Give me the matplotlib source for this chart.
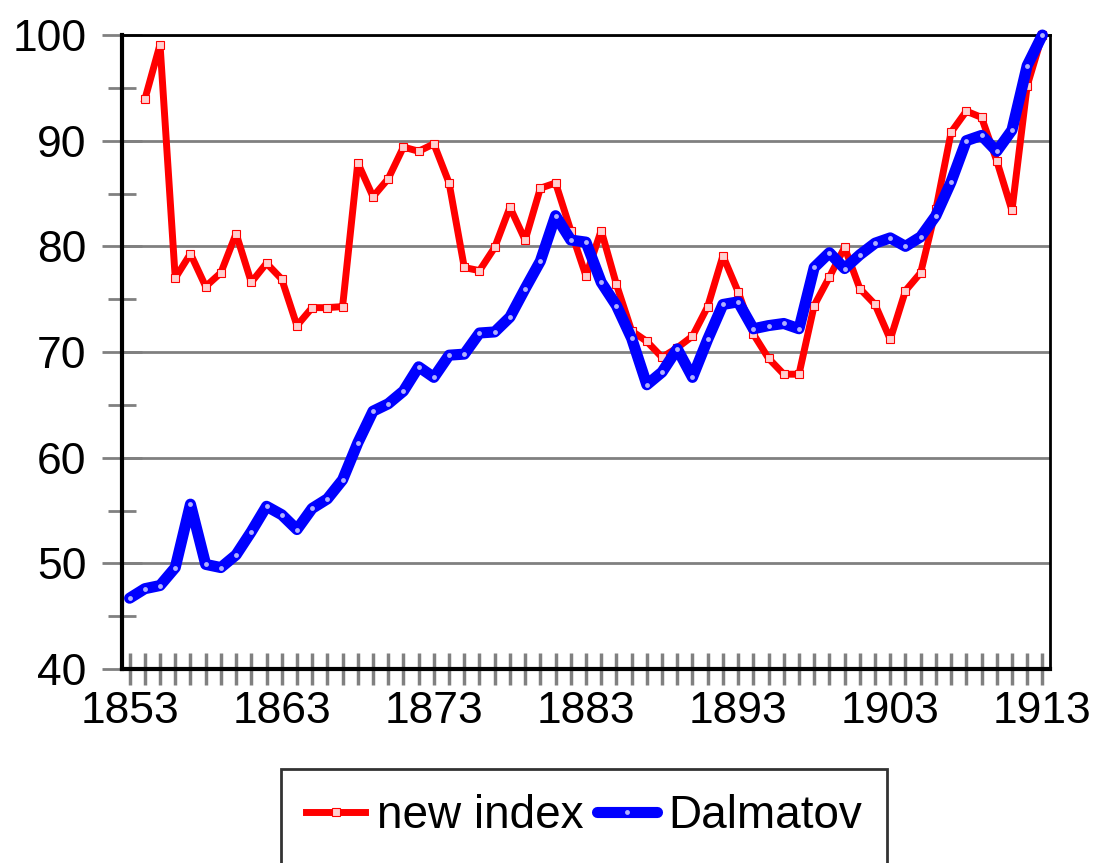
import matplotlib
matplotlib.use("Agg")
import matplotlib.pyplot as plt
import numpy as np

years = np.arange(1853, 1914)

new_index = [np.nan, 93.9, 99.1, 77.0, 79.3, 76.2, 77.5, 81.2, 76.6, 78.4,
             76.9, 72.5, 74.2, 74.2, 74.3, 87.9, 84.7, 86.4, 89.4, 89.0,
             89.7, 86.0, 78.0, 77.7, 79.9, 83.7, 80.6, 85.5, 86.0, 81.5,
             77.2, 81.5, 76.4, 72.0, 71.0, 69.5, 70.4, 71.5, 74.3, 79.1,
             75.7, 71.7, 69.4, 67.9, 67.9, 74.4, 77.1, 79.9, 76.0, 74.5,
             71.2, 75.8, 77.5, 83.5, 90.8, 92.8, 92.2, 88.1, 83.4, 95.2,
             100.0]

dalmatov = [46.7, 47.6, 47.9, 49.6, 55.6, 49.9, 49.6, 50.8, 53.0, 55.4,
            54.6, 53.2, 55.2, 56.1, 57.9, 61.4, 64.4, 65.1, 66.3, 68.6,
            67.6, 69.7, 69.8, 71.8, 71.9, 73.3, 76.0, 78.6, 82.9, 80.6,
            80.4, 76.6, 74.4, 71.3, 66.9, 68.1, 70.3, 67.6, 71.2, 74.5,
            74.75, 72.2, 72.5, 72.7, 72.2, 78.0, 79.4, 77.9, 79.2, 80.3,
            80.8, 80.0, 80.9, 82.9, 86.1, 90.0, 90.5, 89.0, 91.0, 97.1,
            100.0]

label_years = [1853, 1863, 1873, 1883, 1893, 1903, 1913]

plt.rcParams['font.family'] = ['Liberation Sans', 'DejaVu Sans']

fig = plt.figure(figsize=(11.02, 8.63), dpi=100)
ax = fig.add_axes([0.1107, 0.2248, 0.8421, 0.7346])

ax.plot(years, new_index, color='#ff0000', lw=5, marker='s', ms=5.5,
        mfc='#ffd0d0', mec='#ff0000', mew=0.8, label='new index',
        clip_on=False, zorder=3)
ax.plot(years, dalmatov, color='#0000ff', lw=8, marker='o', ms=3.5,
        mfc='#b0b0ff', mec='none', label='Dalmatov',
        clip_on=False, zorder=4, solid_capstyle='round', solid_joinstyle='round')

ax.set_xlim(1852.5, 1913.5)
ax.set_ylim(40, 100)

ax.set_yticks(np.arange(40, 101, 10))
ax.set_yticks(np.arange(45, 100, 10), minor=True)
ax.set_xticks(years)
ax.set_xticklabels([str(y) if y in label_years else '' for y in years])

ax.grid(axis='y', which='major', color='#808080', lw=2, zorder=1)
ax.tick_params(axis='y', which='major', direction='inout', length=29,
               width=2, color='#808080', labelsize=32, pad=11)
ax.tick_params(axis='y', which='minor', direction='inout', length=20,
               width=2, color='#808080')
ax.tick_params(axis='x', direction='inout', length=23, width=2.5,
               color='#808080', labelsize=32, pad=4)

for side in ['left', 'bottom']:
    ax.spines[side].set_linewidth(3)
for side in ['top', 'right']:
    ax.spines[side].set_linewidth(2)
for s in ax.spines.values():
    s.set_color('black')
    s.set_zorder(2)

leg = fig.legend(loc='center', bbox_to_anchor=(0.530, 0.054), ncol=2,
                 fontsize=33, frameon=True, fancybox=False, edgecolor='black',
                 handlelength=1.3, handletextpad=0.25, columnspacing=0.3,
                 borderpad=0.55)
leg.get_frame().set_linewidth(2)

fig.savefig('out.png', dpi=100)
